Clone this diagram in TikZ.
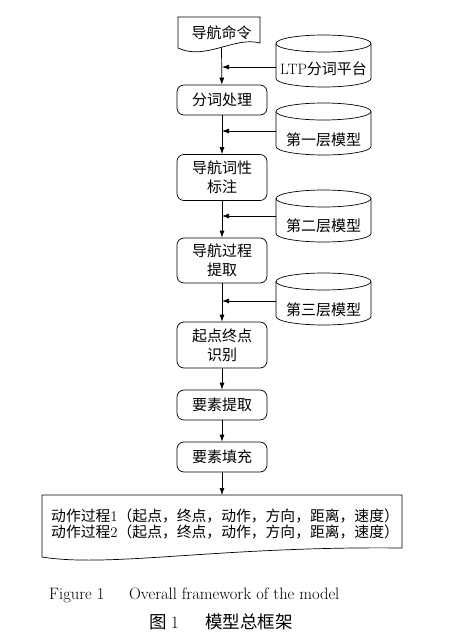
\documentclass[tikz,border=0pt]{standalone}
\usepackage{fontspec}
\newfontfamily\cjk{Noto Sans CJK SC}
\usetikzlibrary{arrows.meta}
% model store: centre x, top y
\def\modeldb(#1:#2){%
  \draw[line width=0.7pt] (#1,#2+8.5) ellipse (47.5pt and 8.5pt);
  \draw[line width=0.7pt] (#1-47.5,#2+8.5) -- (#1-47.5,#2+43.5) arc (180:360:47.5pt and 8.5pt) -- (#1+47.5,#2+8.5);}
\tikzset{
  stepbox/.style={draw, line width=0.7pt, rounded corners=7pt, minimum width=90pt, align=center, inner sep=2pt, font=\cjk\fontsize{15}{19}\selectfont},
  storetext/.style={inner sep=1pt, font=\cjk\fontsize{15}{19}\selectfont},
  flow/.style={-{Latex[length=7pt,width=5pt]}, line width=0.7pt},
}

\begin{document}
\begin{tikzpicture}[x=1pt,y=-1pt]
		%%%%% START %%%%%
		\useasboundingbox (0,0) rectangle (474,635);
		
		% input command
		\draw[line width=0.7pt] (178,17) -- (260,17) -- (260,43) .. controls (235,36) and (205,61) .. (178,48) -- cycle;
		\node[font=\cjk\fontsize{15}{19}\selectfont] (cmd) at (221.5,33) {导航命令};
		\coordinate (cmdout) at (221.5,47.5);
		
		% processing steps
		\node[stepbox, minimum height=30pt] (seg) at (222,100) {分词处理};
		\node[stepbox, minimum height=46pt] (pos) at (222,177.5) {导航词性\\标注};
		\node[stepbox, minimum height=45pt] (proc) at (222,260.5) {导航过程\\提取};
		\node[stepbox, minimum height=46pt] (ends) at (222,345) {起点终点\\识别};
		\node[stepbox, minimum height=30pt] (elem) at (222,405) {要素提取};
		\node[stepbox, minimum height=30pt] (fill) at (222,457) {要素填充};
		
		% models
		\modeldb(323.5:35)
		\modeldb(323.5:103)
		\modeldb(323.5:190)
		\modeldb(323.5:273)
		\node[storetext] (ltp) at (323.5,69) {{\rmfamily LTP}分词平台};
		\node[storetext] (m1) at (323.5,140) {第一层模型};
		\node[storetext] (m2) at (323.5,226) {第二层模型};
		\node[storetext] (m3) at (323.5,310) {第三层模型};
		\coordinate (ltpin) at (276,67);
		\coordinate (m1in) at (276,131);
		\coordinate (m2in) at (276,216);
		\coordinate (m3in) at (276,301);
		
		% output
		\draw[line width=0.7pt] (42,495) -- (402,495) -- (402,548) .. controls (220,546) and (110,568) .. (42,557) -- cycle;
		\node[font=\cjk\fontsize{14.8}{16}\selectfont, align=left, anchor=west, inner sep=0pt] (out) at (51,524) {动作过程{\rmfamily 1}（起点，终点，动作，方向，距离，速度）\\动作过程{\rmfamily 2}（起点，终点，动作，方向，距离，速度）};
		\coordinate (outin) at (222,495);
		
		\draw[flow] (cmdout) -- (seg);
		\draw[flow] (seg) -- (pos);
		\draw[flow] (pos) -- (proc);
		\draw[flow] (proc) -- (ends);
		\draw[flow] (ends) -- (elem);
		\draw[flow] (elem) -- (fill);
		\draw[flow] (fill) -- (outin);
		
		\draw[flow] (ltpin) -- (ltpin -| seg.north);
		\draw[flow] (m1in) -- (m1in -| seg.north);
		\draw[flow] (m2in) -- (m2in -| seg.north);
		\draw[flow] (m3in) -- (m3in -| seg.north);
		
		% captions
		\node[font=\fontsize{16.5}{19}\selectfont, anchor=west, inner sep=0pt] (capen) at (49,595) {Figure 1\hspace{1.5em}Overall framework of the model};
		\node[font=\cjk\fontsize{17.5}{19}\selectfont] (capzh) at (221,622) {图 {\rmfamily 1}\hspace{1.5em}模型总框架};
		
		%%%%% END %%%%%
	\end{tikzpicture}
\end{document}
